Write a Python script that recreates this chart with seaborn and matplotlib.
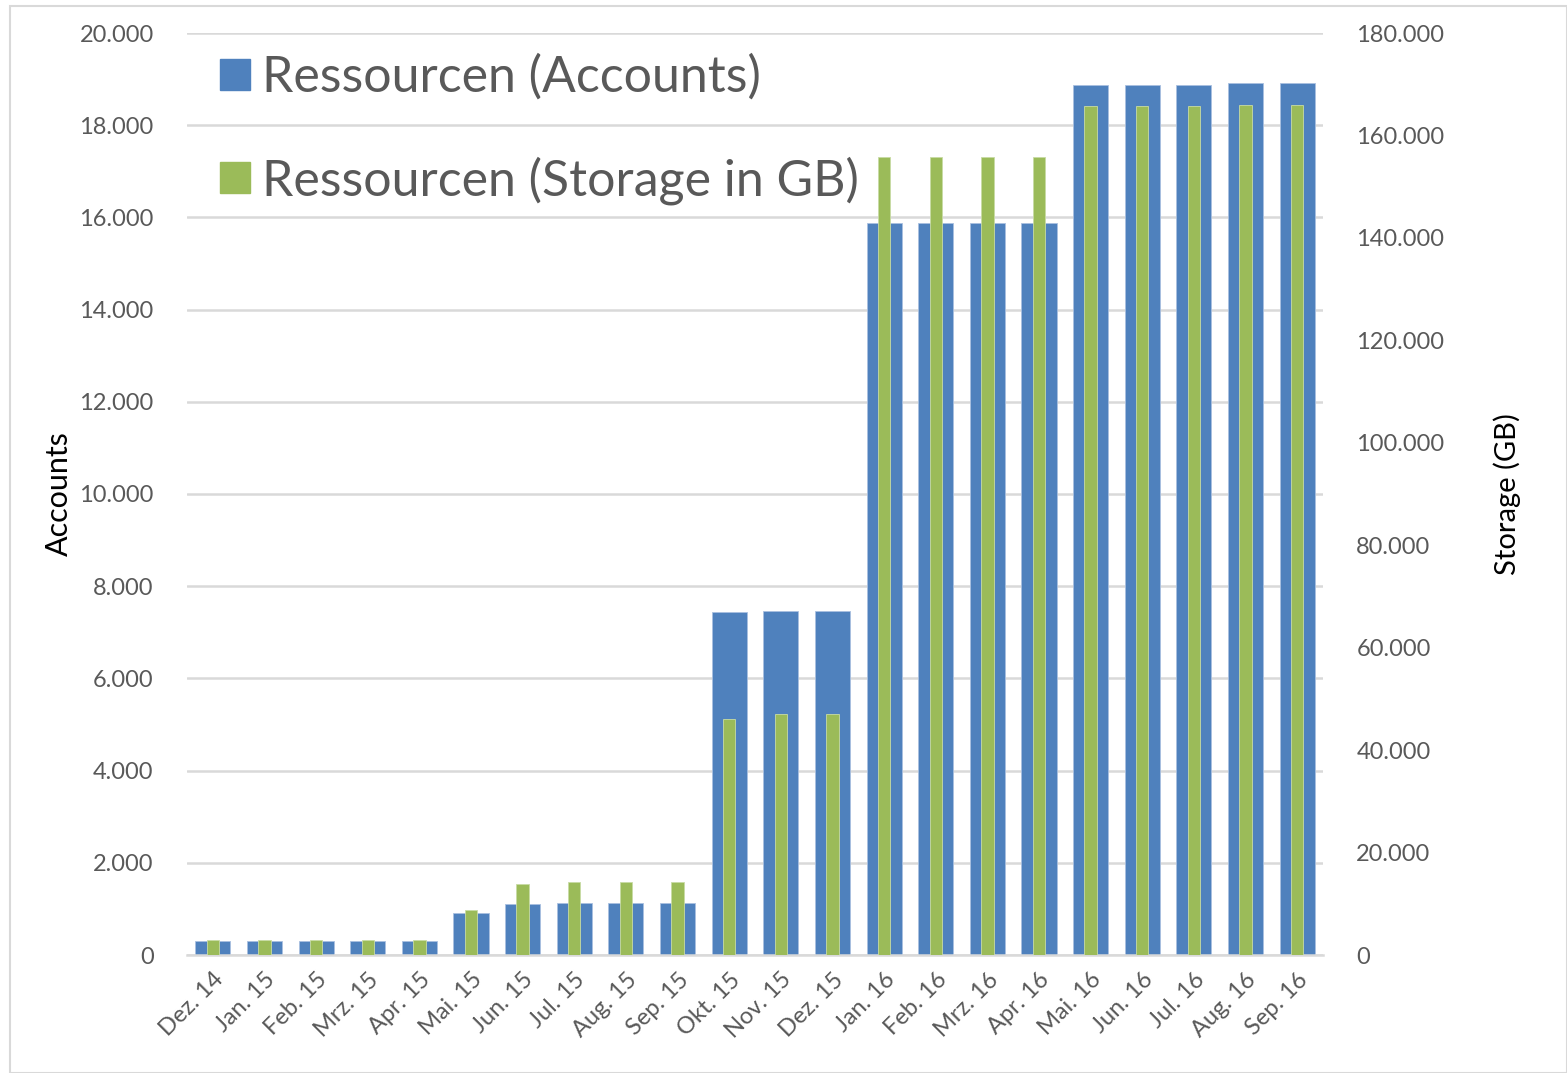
import matplotlib
matplotlib.use("Agg")
import matplotlib.pyplot as plt
import seaborn as sns
import pandas as pd
from matplotlib.ticker import FuncFormatter, MultipleLocator
from matplotlib.patches import Patch, Rectangle

# Daten
months = ["Dez. 14", "Jan. 15", "Feb. 15", "Mrz. 15", "Apr. 15", "Mai. 15", "Jun. 15",
          "Jul. 15", "Aug. 15", "Sep. 15", "Okt. 15", "Nov. 15", "Dez. 15", "Jan. 16",
          "Feb. 16", "Mrz. 16", "Apr. 16", "Mai. 16", "Jun. 16", "Jul. 16", "Aug. 16", "Sep. 16"]
accounts = [300, 300, 300, 300, 300, 905, 1100, 1120, 1120, 1120, 7430, 7460, 7460,
            15870, 15870, 15870, 15870, 18870, 18870, 18870, 18920, 18920]
storage = [2900, 2900, 2900, 2900, 2900, 8850, 13800, 14300, 14300, 14300, 46100, 47000, 47000,
           155700, 155700, 155700, 155700, 165700, 165700, 165700, 166000, 166000]

BLUE = "#4f81bd"
GREEN = "#9bbb59"
TXT = "#595959"
GRID = "#d9d9d9"

df = pd.DataFrame({"Monat": months, "Accounts": accounts, "Storage": storage})

sns.set_theme(style="white")
plt.rcParams["font.family"] = ["Lato", "DejaVu Sans"]

fig = plt.figure(figsize=(15.67, 10.73), dpi=100)
ax = fig.add_axes([187 / 1567, 1 - 955 / 1073, (1323 - 187) / 1567, (955 - 33) / 1073])
ax2 = ax.twinx()

sns.barplot(data=df, x="Monat", y="Accounts", color=BLUE, saturation=1, width=0.68,
            edgecolor="#a9c0e0", linewidth=0.6, ax=ax, zorder=2)
sns.barplot(data=df, x="Monat", y="Storage", color=GREEN, saturation=1, width=0.24,
            edgecolor="#c8dba4", linewidth=0.6, ax=ax2, zorder=3)

ax.set_xlim(-0.5, len(months) - 0.5)
ax2.set_xlim(-0.5, len(months) - 0.5)
ax.set_ylim(0, 20000)
ax2.set_ylim(0, 180000)
ax.yaxis.set_major_locator(MultipleLocator(2000))
ax2.yaxis.set_major_locator(MultipleLocator(20000))

de_fmt = FuncFormatter(lambda v, p: f"{int(v):,}".replace(",", "."))
ax.yaxis.set_major_formatter(de_fmt)
ax2.yaxis.set_major_formatter(de_fmt)

ax.yaxis.grid(True, color=GRID, linewidth=1.8, zorder=0)
ax.set_axisbelow(True)
for a in (ax, ax2):
    for s in a.spines.values():
        s.set_visible(False)
ax.spines["bottom"].set_visible(True)
ax.spines["bottom"].set_color(GRID)
ax.spines["bottom"].set_linewidth(1.8)

ax.tick_params(axis="y", length=0, labelsize=17, labelcolor=TXT, pad=24)
ax2.tick_params(axis="y", length=0, labelsize=17, labelcolor=TXT, pad=24)
ax.tick_params(axis="x", length=0, labelsize=17, labelcolor=TXT, pad=10)
ax2.tick_params(axis="x", length=0)
plt.setp(ax.get_xticklabels(), rotation=45, ha="right", rotation_mode="anchor")

ax.set_xlabel("")
ax2.set_xlabel("")
ax.set_ylabel("Accounts", fontsize=22, color="black")
ax.yaxis.set_label_coords(-0.1, 0.5)
ax2.set_ylabel("Storage (GB)", fontsize=21, color="black")
ax2.yaxis.set_label_coords(1.15, 0.5)

handles = [Patch(facecolor=BLUE, edgecolor=BLUE), Patch(facecolor=GREEN, edgecolor=GREEN)]
leg = ax.legend(handles, ["Ressourcen (Accounts)", "Ressourcen (Storage in GB)"],
                loc="upper left", bbox_to_anchor=(0.0, 1.012), frameon=False,
                fontsize=36, labelspacing=1.1, handlelength=0.6, handleheight=0.6,
                handletextpad=0.25, borderaxespad=0.25)
for t in leg.get_texts():
    t.set_color(TXT)
leg.set_zorder(10)

# dünner Rahmen um das Diagramm
fig.patches.append(Rectangle((10 / 1567, 0), 1 - 10 / 1567, 1 - 6 / 1073,
                             transform=fig.transFigure, fill=False,
                             edgecolor=GRID, linewidth=1.5))

fig.savefig("out.png", dpi=100, facecolor="white")
